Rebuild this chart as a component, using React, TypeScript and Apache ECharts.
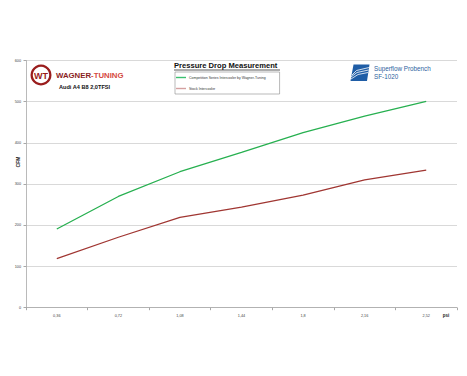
import React, { useEffect, useRef } from "react";
import * as echarts from "echarts";

const categories = ["0,36", "0,72", "1,08", "1,44", "1,8", "2,16", "2,52"];
const competition = [191, 270, 330, 377, 425, 465, 501];
const stock = [119, 171, 219, 244, 273, 310, 334];
const seriesNames = ["Competition Series Intercooler by Wagner-Tuning", "Stock Intercooler"];
const yTicks = { min: 0, max: 600, interval: 100 };

export default function App() {
  const ref = useRef<HTMLDivElement>(null);
  useEffect(() => {
    if (!ref.current) return;
    const chart = echarts.init(ref.current, null, { renderer: "svg" });
    const font = "Liberation Sans";
    chart.setOption({
      animation: false,
      backgroundColor: "#ffffff",
      textStyle: { fontFamily: font },
      title: {
        text: "Pressure Drop Measurement",
        left: 174,
        top: 61,
        padding: 0,
        textStyle: { fontSize: 7.6, fontWeight: "bold", color: "#111", fontFamily: font },
      },
      legend: {
        orient: "vertical",
        left: 175,
        top: 72,
        width: 104,
        padding: [3.5, 14, 3.5, 1],
        itemGap: 7,
        itemWidth: 10,
        itemHeight: 1.4,
        icon: "rect",
        borderColor: "#8a8a8a",
        borderWidth: 0.6,
        backgroundColor: "#ffffff",
        textStyle: { fontSize: 3.5, color: "#333", padding: [0, 0, 0, -2], fontFamily: font },
        data: [
          { name: seriesNames[0], itemStyle: { color: "#3cc070" } },
          { name: seriesNames[1], itemStyle: { color: "#d4a0a0" } },
        ],
      },
      grid: { left: 26, right: 10, top: 60.5, bottom: 68.3, containLabel: false },
      xAxis: {
        type: "category",
        data: categories,
        boundaryGap: true,
        axisLine: { lineStyle: { color: "#a8a8a8", width: 0.8 } },
        axisTick: { show: true, length: 2.5, lineStyle: { color: "#a8a8a8" } },
        axisLabel: { fontSize: 3.8, color: "#444", margin: 6 },
        splitLine: { show: false },
      },
      yAxis: {
        type: "value",
        min: yTicks.min,
        max: yTicks.max,
        interval: yTicks.interval,
        axisLine: { show: true, lineStyle: { color: "#a8a8a8", width: 0.8 } },
        axisTick: { show: true, length: 2.5, lineStyle: { color: "#a8a8a8" } },
        axisLabel: { fontSize: 3.8, color: "#444", margin: 5 },
        splitLine: { lineStyle: { color: "#cfcfcf", width: 0.8 } },
      },
      series: [
        {
          name: seriesNames[0],
          type: "line",
          data: competition,
          showSymbol: false,
          symbol: "none",
          lineStyle: { color: "#27b050", width: 1.3 },
          itemStyle: { color: "#27b050" },
          z: 3,
        },
        {
          name: seriesNames[1],
          type: "line",
          data: stock,
          showSymbol: false,
          symbol: "none",
          lineStyle: { color: "#a03632", width: 1.3 },
          itemStyle: { color: "#a03632" },
          z: 3,
        },
      ],
      graphic: [
        { type: "line", shape: { x1: 174, y1: 70, x2: 280, y2: 70 }, style: { stroke: "#111", lineWidth: 0.7 }, z: 100 },
        {
          type: "text",
          x: 18,
          y: 162,
          rotation: Math.PI / 2,
          style: { text: "CFM", fontSize: 5, fontWeight: "bold", fill: "#222", align: "center", verticalAlign: "middle", fontFamily: font },
        },
        {
          type: "text",
          x: 446,
          y: 315,
          style: { text: "psi", fontSize: 4.5, fontWeight: "bold", fill: "#222", align: "center", verticalAlign: "middle", fontFamily: font },
        },
        { type: "circle", shape: { cx: 41, cy: 75, r: 10.5 }, style: { fill: "#9a1d1d" }, z: 100 },
        { type: "circle", shape: { cx: 41, cy: 75, r: 8.2 }, style: { fill: "#ffffff" }, z: 101 },
        {
          type: "text",
          x: 41,
          y: 75.5,
          z: 102,
          style: { text: "WT", fontSize: 9, fontWeight: "bold", fill: "#9a1d1d", align: "center", verticalAlign: "middle", fontFamily: font },
        },
        {
          type: "text",
          x: 56,
          y: 75,
          z: 100,
          style: {
            text: "{a|WAGNER}{b|-TUNING}",
            verticalAlign: "middle",
            rich: {
              a: { fontSize: 7.8, fontWeight: "bold", fill: "#8a1e1e", color: "#8a1e1e", fontFamily: font },
              b: { fontSize: 7.8, fontWeight: "bold", fill: "#d54a42", color: "#d54a42", fontFamily: font },
            },
          },
        },
        {
          type: "text",
          x: 59,
          y: 87,
          z: 100,
          style: { text: "Audi A4 B8 2,0TFSI", fontSize: 5.6, fontWeight: "bold", fill: "#111", verticalAlign: "middle", fontFamily: font },
        },
        {
          type: "polygon",
          z: 100,
          shape: { points: [[353.5, 64.5], [369.5, 64.5], [367, 81], [350.5, 81]] },
          style: { fill: "#1f5da6" },
        },
        { type: "polyline", z: 101, shape: { points: [[351, 77], [357, 72.5], [368.5, 70]] }, style: { stroke: "#ffffff", lineWidth: 0.8, fill: null } },
        { type: "polyline", z: 101, shape: { points: [[351, 79], [358, 74.5], [368, 72.5]] }, style: { stroke: "#ffffff", lineWidth: 0.8, fill: null } },
        { type: "polyline", z: 101, shape: { points: [[352, 75], [356.5, 70.5], [369, 67.5]] }, style: { stroke: "#ffffff", lineWidth: 0.8, fill: null } },
        {
          type: "text",
          x: 374,
          y: 68.5,
          z: 100,
          style: { text: "Superflow Probench", fontSize: 6.3, fill: "#2d5f9e", verticalAlign: "middle", fontFamily: font },
        },
        {
          type: "text",
          x: 374,
          y: 76,
          z: 100,
          style: { text: "SF-1020", fontSize: 6.3, fill: "#2d5f9e", verticalAlign: "middle", fontFamily: font },
        },
      ],
    });
    return () => chart.dispose();
  }, []);
  return <div ref={ref} style={{ position: "fixed", left: 0, top: 0, width: 467, height: 376 }} />;
}
